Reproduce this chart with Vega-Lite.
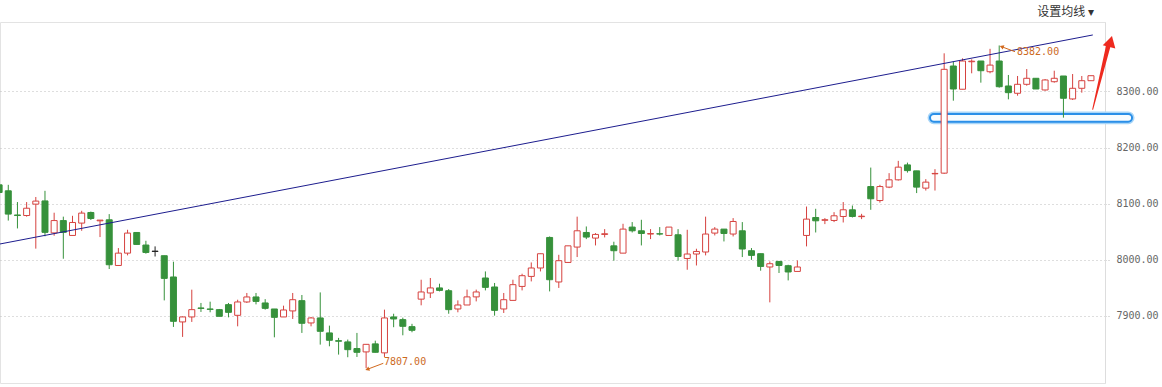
{
"$schema": "https://vega.github.io/schema/vega-lite/v6.json",
"width": 1105, "height": 361,
"autosize": {"type": "none"},
"padding": {"left": 0, "top": 22, "right": 57, "bottom": 4},
"background": "#ffffff",
"config": {"view": {"stroke": "#e3e3e3"}},
"title": {"text": "设置均线 ▾", "anchor": "end", "frame": "group", "dx": -11, "offset": 3, "fontSize": 12, "fontWeight": "normal", "color": "#333333", "font": "Noto Sans CJK SC"},
"datasets": {
"candles": [
{"i":0,"o":8133.7,"c":8120,"h":8137,"l":8116,"d":"down"},
{"i":1,"o":8123,"c":8081.5,"h":8133.7,"l":8070,"d":"down"},
{"i":2,"o":8080,"c":8079,"h":8103,"l":8056,"d":"down"},
{"i":3,"o":8079,"c":8092,"h":8103,"l":8077,"d":"up"},
{"i":4,"o":8099.3,"c":8104.7,"h":8112,"l":8020,"d":"up"},
{"i":5,"o":8105,"c":8049,"h":8123,"l":8042,"d":"down"},
{"i":6,"o":8048,"c":8070,"h":8084,"l":8043,"d":"up"},
{"i":7,"o":8070,"c":8049,"h":8077,"l":8002,"d":"down"},
{"i":8,"o":8043.5,"c":8066.6,"h":8078.5,"l":8043.5,"d":"up"},
{"i":9,"o":8065.5,"c":8083.3,"h":8087.4,"l":8051.8,"d":"up"},
{"i":10,"o":8084.4,"c":8073.7,"h":8086,"l":8071,"d":"down"},
{"i":11,"o":8069.6,"c":8070.8,"h":8071,"l":8040.6,"d":"up"},
{"i":12,"o":8071.4,"c":7991.3,"h":8081.5,"l":7983.7,"d":"down"},
{"i":13,"o":7990,"c":8012,"h":8021,"l":7990,"d":"up"},
{"i":14,"o":8012,"c":8047.7,"h":8053.6,"l":8008,"d":"up"},
{"i":15,"o":8048.8,"c":8027.5,"h":8049,"l":8027,"d":"down"},
{"i":16,"o":8026.4,"c":8013.2,"h":8034,"l":8011,"d":"down"},
{"i":17,"o":8015,"c":8015.5,"h":8024,"l":8006,"d":"flat"},
{"i":18,"o":8007.4,"c":7967,"h":8007.4,"l":7927.8,"d":"down"},
{"i":19,"o":7969.5,"c":7890.5,"h":7996.7,"l":7880.5,"d":"down"},
{"i":20,"o":7889.4,"c":7898.3,"h":7899.4,"l":7862.7,"d":"up"},
{"i":21,"o":7898.3,"c":7911.3,"h":7946.9,"l":7889.4,"d":"up"},
{"i":22,"o":7914.3,"c":7913.5,"h":7923.2,"l":7907.2,"d":"down"},
{"i":23,"o":7912.5,"c":7911.8,"h":7925.5,"l":7906.6,"d":"down"},
{"i":24,"o":7911.3,"c":7899.4,"h":7912.5,"l":7899.4,"d":"down"},
{"i":25,"o":7920.2,"c":7906.5,"h":7923.2,"l":7897.6,"d":"down"},
{"i":26,"o":7901.2,"c":7925,"h":7929,"l":7881.6,"d":"up"},
{"i":27,"o":7925,"c":7933.9,"h":7941,"l":7923.2,"d":"up"},
{"i":28,"o":7933.9,"c":7926,"h":7941,"l":7920.7,"d":"down"},
{"i":29,"o":7923.2,"c":7913.6,"h":7930,"l":7911.3,"d":"down"},
{"i":30,"o":7912.5,"c":7897.6,"h":7912.5,"l":7862,"d":"down"},
{"i":31,"o":7898.3,"c":7910.7,"h":7918.4,"l":7898.3,"d":"up"},
{"i":32,"o":7909,"c":7929,"h":7941,"l":7894.7,"d":"up"},
{"i":33,"o":7927.3,"c":7887,"h":7937.4,"l":7869.8,"d":"down"},
{"i":34,"o":7887.6,"c":7896.5,"h":7898.3,"l":7881.6,"d":"up"},
{"i":35,"o":7896.5,"c":7872.7,"h":7942,"l":7849,"d":"down"},
{"i":36,"o":7869.8,"c":7856.7,"h":7882.8,"l":7846,"d":"down"},
{"i":37,"o":7856,"c":7855,"h":7861,"l":7831.2,"d":"down"},
{"i":38,"o":7853.8,"c":7840,"h":7858,"l":7826.5,"d":"down"},
{"i":39,"o":7842,"c":7835.3,"h":7869.8,"l":7827,"d":"down"},
{"i":40,"o":7836,"c":7849.5,"h":7849.5,"l":7807,"d":"up"},
{"i":41,"o":7850.3,"c":7835.3,"h":7856,"l":7835,"d":"down"},
{"i":42,"o":7834.3,"c":7896.5,"h":7911.3,"l":7827,"d":"up"},
{"i":43,"o":7898.3,"c":7894.7,"h":7904,"l":7880,"d":"down"},
{"i":44,"o":7893.5,"c":7881.6,"h":7897,"l":7865.6,"d":"down"},
{"i":45,"o":7881,"c":7874.5,"h":7886,"l":7871,"d":"down"},
{"i":46,"o":7930,"c":7942.8,"h":7964.6,"l":7919,"d":"up"},
{"i":47,"o":7941,"c":7950,"h":7967.7,"l":7932,"d":"up"},
{"i":48,"o":7950,"c":7945.6,"h":7957.5,"l":7943.8,"d":"down"},
{"i":49,"o":7945,"c":7911.3,"h":7948,"l":7904,"d":"down"},
{"i":50,"o":7912.5,"c":7919.6,"h":7927.8,"l":7906.6,"d":"up"},
{"i":51,"o":7919.6,"c":7934,"h":7947,"l":7919.6,"d":"up"},
{"i":52,"o":7934,"c":7942.8,"h":7947,"l":7926,"d":"up"},
{"i":53,"o":7967.7,"c":7951,"h":7979.4,"l":7945.6,"d":"down"},
{"i":54,"o":7951.7,"c":7910,"h":7958.8,"l":7900.6,"d":"down"},
{"i":55,"o":7912.5,"c":7929,"h":7941,"l":7905.4,"d":"up"},
{"i":56,"o":7927.8,"c":7955.8,"h":7964.6,"l":7927.8,"d":"up"},
{"i":57,"o":7952.7,"c":7971.8,"h":7975.3,"l":7945.6,"d":"up"},
{"i":58,"o":7970.5,"c":7985.5,"h":7995.4,"l":7961.6,"d":"up"},
{"i":59,"o":7985.5,"c":8010.9,"h":8011,"l":7979.4,"d":"up"},
{"i":60,"o":8039.9,"c":7964.6,"h":8041.7,"l":7943.8,"d":"down"},
{"i":61,"o":7960.6,"c":7998.5,"h":8009,"l":7950,"d":"up"},
{"i":62,"o":7995.4,"c":8025,"h":8025,"l":7994.4,"d":"up"},
{"i":63,"o":8022.8,"c":8051.8,"h":8077,"l":8005,"d":"up"},
{"i":64,"o":8048.8,"c":8040.6,"h":8059.5,"l":8037,"d":"down"},
{"i":65,"o":8038.8,"c":8045.3,"h":8047.7,"l":8025.7,"d":"up"},
{"i":66,"o":8045.3,"c":8046.5,"h":8054.8,"l":8040,"d":"up"},
{"i":67,"o":8025,"c":8016.3,"h":8032.3,"l":7998.5,"d":"down"},
{"i":68,"o":8012,"c":8054.8,"h":8064.3,"l":8012,"d":"up"},
{"i":69,"o":8058.4,"c":8051.8,"h":8067.3,"l":8048.8,"d":"down"},
{"i":70,"o":8051.8,"c":8047,"h":8071.4,"l":8025.7,"d":"down"},
{"i":71,"o":8046,"c":8046.8,"h":8054.8,"l":8037,"d":"up"},
{"i":72,"o":8046.5,"c":8046,"h":8058.4,"l":8043.5,"d":"down"},
{"i":73,"o":8043.5,"c":8058.4,"h":8058.4,"l":8043.5,"d":"up"},
{"i":74,"o":8044.7,"c":8006,"h":8054.8,"l":7998.5,"d":"down"},
{"i":75,"o":8002.5,"c":8010.4,"h":8053.6,"l":7982.4,"d":"up"},
{"i":76,"o":8010.4,"c":8015,"h":8019.8,"l":7990,"d":"up"},
{"i":77,"o":8014,"c":8046,"h":8077,"l":8008,"d":"up"},
{"i":78,"o":8047.7,"c":8054.8,"h":8058.4,"l":8043.5,"d":"up"},
{"i":79,"o":8054.8,"c":8047,"h":8054.8,"l":8032.8,"d":"down"},
{"i":80,"o":8046,"c":8068.4,"h":8074.4,"l":8041.7,"d":"up"},
{"i":81,"o":8051.8,"c":8019.3,"h":8067.3,"l":8005,"d":"down"},
{"i":82,"o":8016.3,"c":8008,"h":8021,"l":8000,"d":"down"},
{"i":83,"o":8011,"c":7988.3,"h":8011,"l":7980.7,"d":"down"},
{"i":84,"o":7987.3,"c":7993.1,"h":7997.2,"l":7924.3,"d":"up"},
{"i":85,"o":7997.2,"c":7990,"h":7997.2,"l":7976.6,"d":"down"},
{"i":86,"o":7989.6,"c":7978.4,"h":7991.3,"l":7963.4,"d":"down"},
{"i":87,"o":7979.4,"c":7987.3,"h":7999,"l":7979.4,"d":"up"},
{"i":88,"o":8043.5,"c":8072.6,"h":8095,"l":8024,"d":"up"},
{"i":89,"o":8075.5,"c":8069.6,"h":8091,"l":8048.8,"d":"down"},
{"i":90,"o":8070.5,"c":8071.5,"h":8074.4,"l":8063.7,"d":"up"},
{"i":91,"o":8070.2,"c":8078.5,"h":8085,"l":8067.3,"d":"up"},
{"i":92,"o":8077.3,"c":8089.2,"h":8103,"l":8066.6,"d":"up"},
{"i":93,"o":8089.2,"c":8077.3,"h":8096.8,"l":8075.5,"d":"down"},
{"i":94,"o":8077,"c":8077.8,"h":8082,"l":8072.6,"d":"up"},
{"i":95,"o":8130.6,"c":8108.8,"h":8164.4,"l":8089.2,"d":"down"},
{"i":96,"o":8105.7,"c":8130.6,"h":8133.7,"l":8102,"d":"up"},
{"i":97,"o":8129.6,"c":8142.6,"h":8154.5,"l":8127.8,"d":"up"},
{"i":98,"o":8142.6,"c":8165.2,"h":8176.4,"l":8141.3,"d":"up"},
{"i":99,"o":8169.2,"c":8159,"h":8173.3,"l":8155.5,"d":"down"},
{"i":100,"o":8158.6,"c":8129.6,"h":8158.6,"l":8119,"d":"down"},
{"i":101,"o":8127.8,"c":8138.5,"h":8143.8,"l":8123.5,"d":"up"},
{"i":102,"o":8153.3,"c":8154,"h":8161.6,"l":8123.5,"d":"up"},
{"i":103,"o":8154.5,"c":8339.5,"h":8368,"l":8153.2,"d":"up"},
{"i":104,"o":8345.4,"c":8304.4,"h":8353,"l":8283.6,"d":"down"},
{"i":105,"o":8304,"c":8354.3,"h":8359,"l":8304,"d":"up"},
{"i":106,"o":8353,"c":8354,"h":8357.3,"l":8332.4,"d":"up"},
{"i":107,"o":8354.3,"c":8337,"h":8354.3,"l":8315.7,"d":"down"},
{"i":108,"o":8335.2,"c":8347,"h":8376,"l":8332.4,"d":"up"},
{"i":109,"o":8354.3,"c":8308.5,"h":8382,"l":8306.8,"d":"down"},
{"i":110,"o":8309.8,"c":8297.9,"h":8329.4,"l":8286,"d":"down"},
{"i":111,"o":8296.8,"c":8312.8,"h":8327.6,"l":8292.5,"d":"up"},
{"i":112,"o":8312.8,"c":8323.5,"h":8340,"l":8310.3,"d":"up"},
{"i":113,"o":8323.5,"c":8304.4,"h":8323.5,"l":8304.4,"d":"down"},
{"i":114,"o":8302.7,"c":8320.5,"h":8322.2,"l":8301.4,"d":"up"},
{"i":115,"o":8317.4,"c":8323.5,"h":8337,"l":8315.7,"d":"up"},
{"i":116,"o":8327.6,"c":8287.9,"h":8327.6,"l":8253.4,"d":"down"},
{"i":117,"o":8286.7,"c":8305.7,"h":8331.1,"l":8284.9,"d":"up"},
{"i":118,"o":8305.7,"c":8319.2,"h":8327.6,"l":8297.9,"d":"up"},
{"i":119,"o":8319.2,"c":8328.1,"h":8328.1,"l":8319.2,"d":"up"}
],
"trend": [{"i":0.098,"p":8028.3},{"i":119.2,"p":8400.7}],
"box": [{"i":101.46,"i2":123.48,"p":8259.9,"p2":8246.2}],
"bigarrow": [{"i":119.19,"p":8268.3,"s":1},{"i":120.86,"p":8379.3,"s":4}],
"bighead": [{"i":121.13,"p":8389.1}],
"labels": [{"i":110.94,"p":8370.2,"t":"8382.00"},{"i":41.95,"p":7818.6,"t":"7807.00"}],
"pointers": [{"i":110.72,"p":8370.9,"i2":109.27,"p2":8379.8,"a":290.6},{"i":41.87,"p":7815.7,"i2":40.13,"p2":7805.0,"a":249.4}]
},
"layer": [
{"data": {"name": "box"},
 "mark": {"type": "rect", "cornerRadius": 5, "fill": "#f8fcff", "stroke": "#a9d6f8", "strokeWidth": 5, "clip": false},
 "encoding": {
  "x": {"field": "i", "type": "quantitative", "axis": null, "scale": {"domain": [0.098, 120.53], "nice": false, "zero": false, "padding": 0}},
  "x2": {"field": "i2"},
  "y": {"field": "p", "type": "quantitative", "title": null, "scale": {"domain": [7780.6, 8423.8], "nice": false, "zero": false, "padding": 0},
        "axis": {"orient": "right", "values": [7900, 8000, 8100, 8200, 8300], "format": ".2f", "labelFont": "DejaVu Sans Mono", "labelFontSize": 10, "labelColor": "#666666", "tickSize": 5, "tickColor": "#bbbbbb", "tickDash": [1, 2], "domainColor": "#dddddd", "grid": true, "gridColor": "#bdbdbd", "gridDash": [1, 3], "labelPadding": 6, "title": null}},
  "y2": {"field": "p2"}
 }},
{"data": {"name": "box"},
 "mark": {"type": "rect", "cornerRadius": 4, "fill": "#f8fcff", "stroke": "#2a8fe8", "strokeWidth": 2, "clip": false},
 "encoding": {
  "x": {"field": "i", "type": "quantitative", "axis": null, "scale": {"domain": [0.098, 120.53], "nice": false, "zero": false, "padding": 0}},
  "x2": {"field": "i2"},
  "y": {"field": "p", "type": "quantitative", "title": null, "scale": {"domain": [7780.6, 8423.8], "nice": false, "zero": false, "padding": 0},
        "axis": {"orient": "right", "values": [7900, 8000, 8100, 8200, 8300], "format": ".2f", "labelFont": "DejaVu Sans Mono", "labelFontSize": 10, "labelColor": "#666666", "tickSize": 5, "tickColor": "#bbbbbb", "tickDash": [1, 2], "domainColor": "#dddddd", "grid": true, "gridColor": "#bdbdbd", "gridDash": [1, 3], "labelPadding": 6, "title": null}},
  "y2": {"field": "p2"}
 }},
{"data": {"name": "candles"},
 "mark": {"type": "rule", "strokeWidth": 1, "clip": true},
 "encoding": {
  "x": {"field": "i", "type": "quantitative", "axis": null, "scale": {"domain": [0.098, 120.53], "nice": false, "zero": false, "padding": 0}},
  "y": {"field": "l", "type": "quantitative", "title": null, "scale": {"domain": [7780.6, 8423.8], "nice": false, "zero": false, "padding": 0},
        "axis": {"orient": "right", "values": [7900, 8000, 8100, 8200, 8300], "format": ".2f", "labelFont": "DejaVu Sans Mono", "labelFontSize": 10, "labelColor": "#666666", "tickSize": 5, "tickColor": "#bbbbbb", "tickDash": [1, 2], "domainColor": "#dddddd", "grid": true, "gridColor": "#bdbdbd", "gridDash": [1, 3], "labelPadding": 6, "title": null}},
  "y2": {"field": "h"},
  "color": {"field": "d", "type": "nominal", "legend": null, "scale": {"domain": ["up", "down", "flat"], "range": ["#d6423f", "#36913b", "#222222"]}}
 }},
{"data": {"name": "candles"},
 "mark": {"type": "bar", "size": 6, "strokeWidth": 1, "clip": true},
 "encoding": {
  "x": {"field": "i", "type": "quantitative", "axis": null, "scale": {"domain": [0.098, 120.53], "nice": false, "zero": false, "padding": 0}},
  "y": {"field": "o", "type": "quantitative", "title": null, "scale": {"domain": [7780.6, 8423.8], "nice": false, "zero": false, "padding": 0},
        "axis": {"orient": "right", "values": [7900, 8000, 8100, 8200, 8300], "format": ".2f", "labelFont": "DejaVu Sans Mono", "labelFontSize": 10, "labelColor": "#666666", "tickSize": 5, "tickColor": "#bbbbbb", "tickDash": [1, 2], "domainColor": "#dddddd", "grid": true, "gridColor": "#bdbdbd", "gridDash": [1, 3], "labelPadding": 6, "title": null}},
  "y2": {"field": "c"},
  "fill": {"field": "d", "type": "nominal", "legend": null, "scale": {"domain": ["up", "down", "flat"], "range": ["#ffffff", "#36913b", "#222222"]}},
  "stroke": {"field": "d", "type": "nominal", "legend": null, "scale": {"domain": ["up", "down", "flat"], "range": ["#d6423f", "#36913b", "#222222"]}}
 }},
{"data": {"name": "trend"},
 "mark": {"type": "line", "color": "#1d1d8e", "strokeWidth": 1, "clip": true},
 "encoding": {
  "x": {"field": "i", "type": "quantitative", "axis": null, "scale": {"domain": [0.098, 120.53], "nice": false, "zero": false, "padding": 0}},
  "y": {"field": "p", "type": "quantitative", "title": null, "scale": {"domain": [7780.6, 8423.8], "nice": false, "zero": false, "padding": 0},
        "axis": {"orient": "right", "values": [7900, 8000, 8100, 8200, 8300], "format": ".2f", "labelFont": "DejaVu Sans Mono", "labelFontSize": 10, "labelColor": "#666666", "tickSize": 5, "tickColor": "#bbbbbb", "tickDash": [1, 2], "domainColor": "#dddddd", "grid": true, "gridColor": "#bdbdbd", "gridDash": [1, 3], "labelPadding": 6, "title": null}}
 }},
{"data": {"name": "pointers"},
 "mark": {"type": "rule", "color": "#d2691e", "strokeWidth": 1, "clip": false},
 "encoding": {
  "x": {"field": "i", "type": "quantitative", "axis": null, "scale": {"domain": [0.098, 120.53], "nice": false, "zero": false, "padding": 0}},
  "x2": {"field": "i2"},
  "y": {"field": "p", "type": "quantitative", "title": null, "scale": {"domain": [7780.6, 8423.8], "nice": false, "zero": false, "padding": 0},
        "axis": {"orient": "right", "values": [7900, 8000, 8100, 8200, 8300], "format": ".2f", "labelFont": "DejaVu Sans Mono", "labelFontSize": 10, "labelColor": "#666666", "tickSize": 5, "tickColor": "#bbbbbb", "tickDash": [1, 2], "domainColor": "#dddddd", "grid": true, "gridColor": "#bdbdbd", "gridDash": [1, 3], "labelPadding": 6, "title": null}},
  "y2": {"field": "p2"}
 }},
{"data": {"name": "pointers"},
 "mark": {"type": "point", "shape": "triangle-up", "filled": true, "size": 22, "color": "#d2691e", "opacity": 1, "clip": false},
 "encoding": {
  "x": {"field": "i2", "type": "quantitative", "axis": null, "scale": {"domain": [0.098, 120.53], "nice": false, "zero": false, "padding": 0}},
  "y": {"field": "p2", "type": "quantitative", "title": null, "scale": {"domain": [7780.6, 8423.8], "nice": false, "zero": false, "padding": 0},
        "axis": {"orient": "right", "values": [7900, 8000, 8100, 8200, 8300], "format": ".2f", "labelFont": "DejaVu Sans Mono", "labelFontSize": 10, "labelColor": "#666666", "tickSize": 5, "tickColor": "#bbbbbb", "tickDash": [1, 2], "domainColor": "#dddddd", "grid": true, "gridColor": "#bdbdbd", "gridDash": [1, 3], "labelPadding": 6, "title": null}},
  "angle": {"field": "a", "type": "quantitative", "scale": null}
 }},
{"data": {"name": "labels"},
 "mark": {"type": "text", "align": "left", "baseline": "middle", "font": "DejaVu Sans Mono", "fontSize": 10, "color": "#cc6a1e", "clip": false},
 "encoding": {
  "x": {"field": "i", "type": "quantitative", "axis": null, "scale": {"domain": [0.098, 120.53], "nice": false, "zero": false, "padding": 0}},
  "y": {"field": "p", "type": "quantitative", "title": null, "scale": {"domain": [7780.6, 8423.8], "nice": false, "zero": false, "padding": 0},
        "axis": {"orient": "right", "values": [7900, 8000, 8100, 8200, 8300], "format": ".2f", "labelFont": "DejaVu Sans Mono", "labelFontSize": 10, "labelColor": "#666666", "tickSize": 5, "tickColor": "#bbbbbb", "tickDash": [1, 2], "domainColor": "#dddddd", "grid": true, "gridColor": "#bdbdbd", "gridDash": [1, 3], "labelPadding": 6, "title": null}},
  "text": {"field": "t"}
 }},
{"data": {"name": "bigarrow"},
 "mark": {"type": "trail", "color": "#ee2a1f", "clip": false},
 "encoding": {
  "x": {"field": "i", "type": "quantitative", "axis": null, "scale": {"domain": [0.098, 120.53], "nice": false, "zero": false, "padding": 0}},
  "y": {"field": "p", "type": "quantitative", "title": null, "scale": {"domain": [7780.6, 8423.8], "nice": false, "zero": false, "padding": 0},
        "axis": {"orient": "right", "values": [7900, 8000, 8100, 8200, 8300], "format": ".2f", "labelFont": "DejaVu Sans Mono", "labelFontSize": 10, "labelColor": "#666666", "tickSize": 5, "tickColor": "#bbbbbb", "tickDash": [1, 2], "domainColor": "#dddddd", "grid": true, "gridColor": "#bdbdbd", "gridDash": [1, 3], "labelPadding": 6, "title": null}},
  "size": {"field": "s", "type": "quantitative", "legend": null, "scale": {"domain": [1, 4], "range": [1, 4.5]}}
 }},
{"data": {"name": "bighead"},
 "mark": {"type": "point", "shape": "triangle-up", "filled": true, "size": 170, "angle": 15, "color": "#ee2a1f", "opacity": 1, "clip": false},
 "encoding": {
  "x": {"field": "i", "type": "quantitative", "axis": null, "scale": {"domain": [0.098, 120.53], "nice": false, "zero": false, "padding": 0}},
  "y": {"field": "p", "type": "quantitative", "title": null, "scale": {"domain": [7780.6, 8423.8], "nice": false, "zero": false, "padding": 0},
        "axis": {"orient": "right", "values": [7900, 8000, 8100, 8200, 8300], "format": ".2f", "labelFont": "DejaVu Sans Mono", "labelFontSize": 10, "labelColor": "#666666", "tickSize": 5, "tickColor": "#bbbbbb", "tickDash": [1, 2], "domainColor": "#dddddd", "grid": true, "gridColor": "#bdbdbd", "gridDash": [1, 3], "labelPadding": 6, "title": null}}
 }}
]
}
